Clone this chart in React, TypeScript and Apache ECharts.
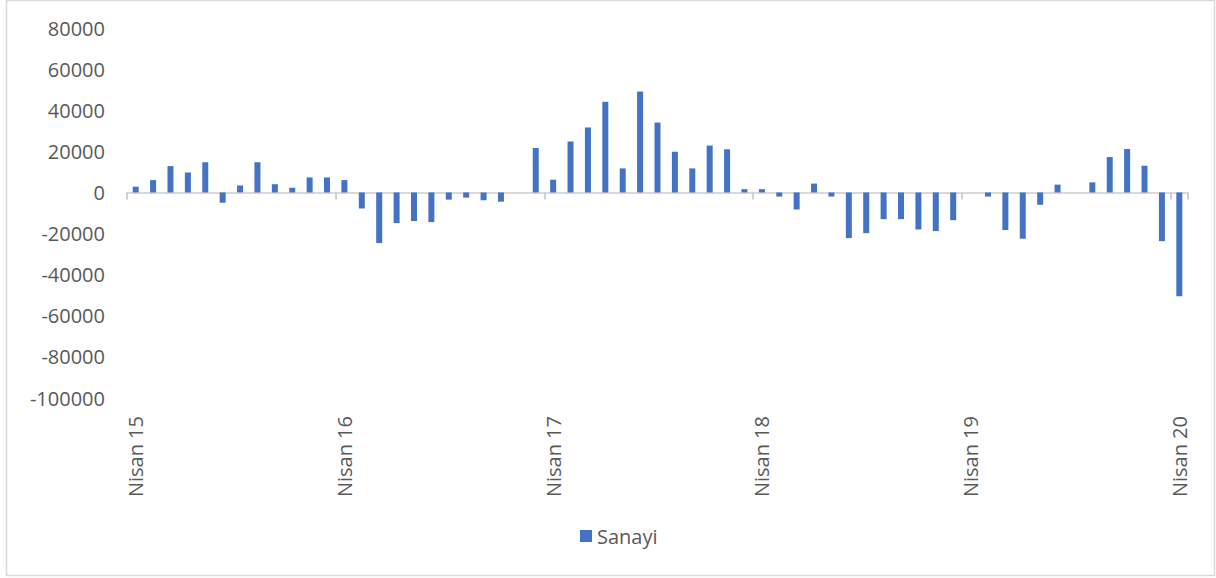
import React, { useEffect, useRef } from "react";
import * as echarts from "echarts";

const monthNames = ["Ocak", "Şubat", "Mart", "Nisan", "Mayıs", "Haziran", "Temmuz", "Ağustos", "Eylül", "Ekim", "Kasım", "Aralık"];
const startMonthIndex = 3; // Nisan
const startYear = 15;
const monthCount = 61;

const categories: string[] = [];
for (let i = 0; i < monthCount; i++) {
  const m = (startMonthIndex + i) % 12;
  const y = startYear + Math.floor((startMonthIndex + i) / 12);
  categories.push(`${monthNames[m]} ${y}`);
}

const sanayi = [
  2800, 6000, 12800, 9700, 14700, -5000, 3400, 14700, 4000, 2300, 7300, 7300,
  6000, -7800, -24600, -14900, -13900, -14400, -3500, -2500, -3800, -4500, 0, 21600,
  6200, 24800, 31600, 44100, 11700, 49100, 34000, 19800, 11700, 22800, 21000, 1600,
  1600, -2000, -8300, 4300, -2000, -22200, -19800, -13000, -13000, -18000, -18800, -13500,
  0, -2000, -18300, -22500, -6000, 3800, 0, 4900, 17200, 21100, 13000, -23700,
  -50500,
];

const seriesName = "Sanayi";
const FONT = "'Open Sans', 'Noto Sans', sans-serif";
const TEXT = "#595959";

export default function App() {
  const ref = useRef<HTMLDivElement>(null);
  useEffect(() => {
    if (!ref.current) return;
    const chart = echarts.init(ref.current, undefined, { renderer: "svg" });
    chart.setOption({
      animation: false,
      backgroundColor: "#ffffff",
      textStyle: { fontFamily: FONT },
      grid: { left: 127, right: 28, top: 28, bottom: 180, containLabel: false },
      graphic: [
        {
          type: "rect",
          shape: { x: 6.5, y: 0.5, width: 1208, height: 575 },
          style: { fill: "none", stroke: "#d9d9d9", lineWidth: 1.5 },
          silent: true,
        },
      ],
      legend: {
        left: 575,
        top: 521,
        icon: "rect",
        itemWidth: 12,
        itemHeight: 12,
        itemGap: 8,
        textStyle: { color: TEXT, fontSize: 20, fontFamily: FONT },
        data: [seriesName],
      },
      xAxis: [
        {
          type: "category",
          data: categories,
          boundaryGap: true,
          axisLine: { show: true, onZero: true, lineStyle: { color: "#d9d9d9", width: 2 } },
          axisTick: { show: true, interval: 11, length: 7, lineStyle: { color: "#d0d0d0", width: 2 } },
          axisLabel: { show: false },
          splitLine: { show: false },
        },
        {
          type: "category",
          data: categories,
          position: "bottom",
          boundaryGap: true,
          axisLine: { show: false, onZero: false },
          axisTick: { show: false },
          axisLabel: {
            show: true,
            interval: 11,
            rotate: 90,
            margin: 18,
            color: TEXT,
            fontSize: 20,
            fontFamily: FONT,
          },
          splitLine: { show: false },
        },
      ],
      yAxis: {
        type: "value",
        min: -100000,
        max: 80000,
        interval: 20000,
        axisLine: { show: false },
        axisTick: { show: false },
        splitLine: { show: false },
        axisLabel: {
          color: TEXT,
          fontSize: 20,
          fontFamily: FONT,
          margin: 22,
          formatter: (v: number) => String(v),
        },
      },
      series: [
        {
          name: seriesName,
          type: "bar",
          xAxisIndex: 0,
          data: sanayi,
          barWidth: 6,
          itemStyle: { color: "#4472C4" },
        },
      ],
    });
    return () => chart.dispose();
  }, []);
  return (
    <div
      ref={ref}
      style={{ position: "fixed", left: 0, top: 0, width: 1216, height: 578 }}
    />
  );
}
